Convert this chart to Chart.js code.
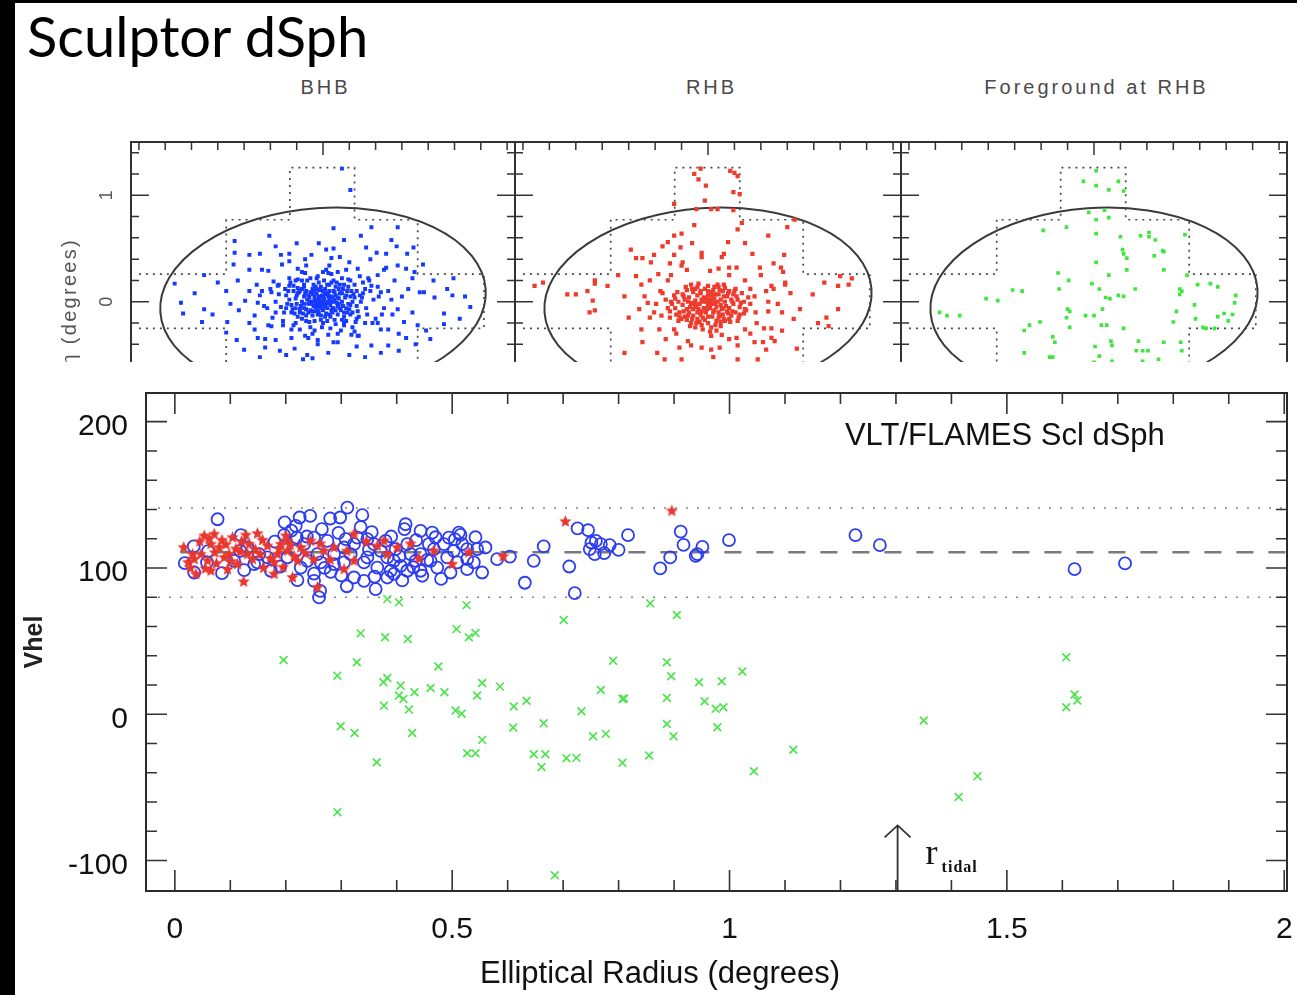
<!DOCTYPE html>
<html><head><meta charset="utf-8">
<script src="https://cdn.jsdelivr.net/npm/chart.js@4.4.1/dist/chart.umd.min.js"></script>
<style>
html,body{margin:0;padding:0;background:#fff;width:1297px;height:995px;overflow:hidden;position:relative}
#bl{position:absolute;left:0;top:0;width:15px;height:995px;background:#000;z-index:20}
#bt{position:absolute;left:0;top:0;width:1297px;height:3px;background:#000;z-index:20}
#title{position:absolute;left:27px;top:8px;font-family:Lato,sans-serif;font-size:56px;line-height:56px;color:#000;white-space:nowrap;z-index:6}
.pt{position:absolute;top:77px;font-family:'Liberation Sans',Arial,sans-serif;font-size:20px;line-height:20px;letter-spacing:3px;color:#4a4a4a;white-space:nowrap;transform:translateX(-50%);padding-left:3px}
.pc{position:absolute;left:0;top:0}
#main{position:absolute;left:15px;top:362px;width:1282px;height:633px;background:#fff;z-index:5}
</style></head>
<body>
<div id="bl"></div><div id="bt"></div>
<div id="title">Sculptor dSph</div>
<div class="pt" style="left:324px">BHB</div>
<div class="pt" style="left:710px">RHB</div>
<div class="pt" style="left:1095px">Foreground at RHB</div>
<canvas id="p1" class="pc" width="1297" height="995"></canvas>
<canvas id="p2" class="pc" width="1297" height="995"></canvas>
<canvas id="p3" class="pc" width="1297" height="995"></canvas>
<div id="main"><canvas id="cm" width="1282" height="633"></canvas></div>
<script>
// ================= DATA =================
// Top panels: sky positions (xi, eta) in degrees
const BHB_SKY = [[0.18,1.25],[0.26,1.05],[0.10,0.69],[-0.51,0.62],[0.46,0.70],[0.71,0.70],[-0.84,0.57],[-0.84,0.46],[-0.70,0.44],[-0.04,0.55],[0.03,0.49],[0.41,0.51],[0.51,0.46],[0.70,0.52],[0.86,0.51],[-1.13,0.25],[-1.41,0.17],[-1.35,-0.01],[-1.33,-0.11],[-1.13,-0.07],[-1.15,-0.19],[1.24,0.22],[1.23,0.06],[1.15,-0.11],[1.15,-0.21],[0.98,-0.27],[0.79,-0.34],[0.46,-0.41],[0.62,-0.41],[-0.41,-0.46],[-0.27,-0.44],[-0.55,-0.43],[-0.55,-0.35],[-0.82,-0.36],[-0.91,-0.19],[-0.92,0.10],[-0.81,0.20],[-0.63,0.16],[-0.52,0.29],[-0.39,0.35],[-0.32,0.38],[-0.17,0.40],[-0.11,0.44],[0.08,0.41],[0.16,0.42],[0.25,0.37],[0.33,0.31],[0.43,0.22],[0.52,0.25],[0.60,0.32],[0.71,0.34],[0.79,0.31],[0.87,0.28],[0.92,0.09],[0.96,0.09],[1.06,0.04],[0.81,0.12],[0.65,0.02],[0.71,-0.07],[0.77,-0.19],[0.52,-0.20],[0.62,-0.26],[0.33,-0.32],[0.14,-0.38],[-0.05,-0.40],[-0.17,-0.32],[-0.30,-0.26],[-0.49,-0.23],[-0.65,-0.13],[-0.74,0.01],[-0.62,-0.01],[-0.49,0.09],[-0.43,0.15],[-0.24,0.21],[-0.05,0.24],[0.05,0.27],[0.24,0.21],[0.46,0.15],[0.55,0.09],[-0.19,-0.54],[-0.10,-0.53],[-0.92,-0.29],[-0.65,-0.26],
[-0.70,0.30],[-0.60,0.45],[-0.45,0.52],[-0.25,0.55],[0.20,0.58],[0.36,0.62],[0.65,0.58],[0.80,0.45],[0.95,0.35],[1.05,0.20],[1.18,0.12],[1.35,0.05],[1.40,-0.05],[1.30,-0.16],[0.85,-0.10],[0.75,0.05],[0.68,0.20],[-0.85,0.35],[-1.00,0.18],[-1.22,0.08],[-1.05,-0.12],[-0.80,-0.08],[-0.70,-0.20],[-0.75,-0.45],[-0.60,-0.52],[-0.35,-0.50],[-0.15,-0.50],[0.05,-0.48],[0.25,-0.50],[0.40,-0.52],[0.55,-0.48],[0.72,-0.46],[0.88,-0.40],[1.02,-0.35],[0.90,-0.22],[0.66,-0.12],[-0.58,0.30],[-0.40,0.44],[0.45,0.40],[0.60,0.45],[-0.88,-0.02],[-0.70,0.10],[0.72,-0.30],[-0.45,-0.36],[0.32,-0.42],[-0.32,0.45],[0.10,0.50],[0.58,0.30],[-0.62,-0.34],[0.85,0.22],
[-0.02,-0.03],[0.05,-0.01],[-0.08,0.02],[0.10,-0.06],[-0.12,-0.08],[0.15,0.03],[-0.18,0.05],[0.20,-0.10],[-0.05,-0.12],[0.03,0.08],[-0.25,-0.02],[0.26,0.05],[-0.30,-0.10],[0.32,-0.04],[-0.10,0.12],[0.12,0.14],[-0.20,-0.16],[0.22,-0.18],[0.00,-0.20],[-0.35,0.06],[0.38,0.08],[-0.40,-0.05],[0.42,-0.12],[-0.15,0.20],[0.18,0.22],[-0.28,0.15],[0.30,0.16],[-0.06,0.22],[0.07,-0.25],[-0.22,-0.26],[0.28,-0.24],[-0.45,0.00],[0.48,0.02],[-0.38,-0.18],[0.40,-0.20],[-0.32,0.22],[0.35,0.24],[-0.10,-0.30],[0.14,-0.30],[0.00,0.28],[-0.50,0.12],[0.52,0.14],[-0.48,-0.15],[0.50,-0.16],[-0.04,0.05],[0.04,-0.06],[-0.14,-0.02],[0.14,-0.12],[-0.08,-0.18],[0.08,0.18],[-0.24,0.08],[0.24,-0.02],[-0.18,-0.06],[0.18,0.08],[-0.34,-0.02],[0.36,0.00],[-0.02,0.14],[0.02,-0.14],[-0.28,-0.22],[0.30,-0.28],[-0.56,-0.04],[0.58,-0.06],[-0.20,0.28],[0.22,0.30],[-0.42,0.16],[0.44,0.20],[-0.60,0.06],[0.62,0.10],[-0.05,-0.36],[0.10,-0.38],[-0.30,-0.34],[0.34,-0.32],[-0.16,0.34],[0.06,0.34],[-0.52,-0.22],[0.55,-0.26],[-0.10,0.00],[0.10,0.00],[0.00,-0.08],[-0.06,0.08],[0.06,0.10],[-0.16,0.10],[0.16,-0.06],[-0.22,-0.10],[0.26,-0.12],[-0.36,0.12],[0.40,0.12],[-0.12,-0.24],[0.20,-0.22],[-0.26,0.20],
[-0.03,0.00],[0.01,0.03],[0.07,-0.03],[-0.07,-0.05],[0.12,0.06],[-0.13,0.04],[0.19,-0.04],[-0.20,0.00],[0.00,0.10],[-0.04,-0.10],[0.09,-0.10],[-0.10,0.07],[0.23,0.10],[-0.26,-0.06],[0.28,0.00],[-0.16,-0.13],[0.15,0.12],[0.04,0.16],[-0.09,0.16],[0.11,-0.17],[-0.02,-0.17],[0.32,0.10],[-0.32,0.02],[0.34,-0.14],[-0.24,0.13],[0.20,0.16],[-0.18,0.16],[0.05,0.05],[-0.05,0.02],[0.00,-0.03],
[0.02,-0.05],[-0.01,0.06],[0.06,0.02],[-0.06,-0.02],[0.09,0.04],[-0.09,-0.04],[0.13,-0.01],[-0.13,0.00],[0.03,-0.11],[-0.03,0.11],[0.17,-0.08],[-0.17,0.08],[0.21,0.04],[-0.21,-0.04],[0.11,0.09],[-0.11,-0.09],[0.07,-0.14],[-0.07,0.14],[0.25,-0.07],[-0.25,0.06],[0.16,0.16],[-0.16,-0.18],[0.29,0.07],[-0.29,-0.07],[0.01,0.20],[-0.01,-0.24],[0.33,-0.09],[-0.33,0.10],[0.20,-0.20],[-0.20,0.20],[0.37,0.04],[-0.37,-0.10],[0.12,-0.21],[-0.12,0.22],[0.41,-0.06],[-0.42,0.07],[0.26,0.20],[-0.26,-0.20],[0.08,0.26],[-0.08,-0.27],[0.45,0.10],[-0.45,-0.10],[0.31,-0.19],[-0.31,0.18],[0.17,-0.27],[-0.17,0.27],[0.05,-0.31],[0.03,0.30],[0.38,0.18],[-0.38,-0.22],[0.47,-0.20],[-0.47,0.19],[0.27,-0.31],[-0.24,0.31],[0.53,0.05],[-0.53,-0.06],[0.56,-0.12],[-0.58,0.10],[0.14,0.28],[-0.14,-0.34],[0.00,0.00],[0.04,0.00],[-0.04,-0.04],[0.08,-0.08],[-0.08,0.05],[0.14,0.04],[-0.14,-0.10],[0.22,-0.06],[-0.22,0.10],[0.10,0.20],
[0.02,0.07],[-0.02,-0.06],[0.06,-0.12],[-0.06,0.12],[0.10,0.10],[-0.10,-0.13],[0.14,-0.04],[-0.14,0.06],[0.18,0.00],[-0.18,-0.02],[0.22,0.06],[-0.22,-0.07],[0.26,-0.03],[-0.26,0.03],[0.30,0.04],[-0.30,-0.03],[0.08,0.05],[-0.08,-0.09],[0.12,-0.08],[-0.12,0.09],[0.16,0.08],[-0.16,-0.07],[0.20,-0.14],[-0.20,0.12],[0.24,0.14],[-0.24,-0.14],[0.28,-0.10],[-0.28,0.10],[0.04,-0.18],[-0.04,0.18],[0.13,0.18],[-0.13,-0.19],[0.18,-0.17],[-0.18,0.14],[0.32,-0.16],[-0.32,0.15],[0.35,0.06],[-0.35,-0.06],[0.00,0.05],[0.03,-0.02],[-0.03,0.03],[0.07,0.00],[-0.07,0.00],[0.11,0.02],[-0.11,-0.02],[0.15,-0.02],[-0.15,0.02],[0.05,0.08],[-0.05,-0.08],[0.09,-0.06],[-0.09,0.10],[0.19,0.12],[-0.19,-0.11],[0.23,-0.10],[-0.23,0.09],[0.27,0.10],[-0.27,-0.11],[0.02,0.12],[-0.02,-0.13],[0.06,0.16]];

const RHB_SKY = [[-0.07,1.25],[-0.13,1.20],[-0.09,1.15],[-0.02,1.09],[0.21,1.23],[0.25,1.21],[0.28,1.18],[0.24,1.03],[0.30,1.01],[-0.03,0.95],[-0.32,0.92],[-0.11,0.87],[0.03,0.87],[0.09,0.87],[0.24,0.86],[-0.13,0.72],[0.28,0.68],[0.32,0.74],[0.75,0.70],[0.82,0.77],[-0.25,0.64],[-0.32,0.62],[0.19,0.56],[0.35,0.55],[0.57,0.62],[-0.43,0.52],[-0.38,0.56],[-0.26,0.51],[-0.73,0.49],[-0.51,0.44],[-0.06,0.46],[-0.06,0.42],[0.13,0.42],[-0.32,0.44],[-0.24,0.37],[-0.25,0.34],[-0.68,0.41],[-0.62,0.41],[-0.54,0.37],[-0.36,0.36],[0.27,0.32],[0.20,0.32],[0.49,0.32],[0.62,0.36],[0.72,0.44],[0.71,0.28],[0.69,0.32],[0.02,0.29],[0.10,0.31],[-0.68,0.24],[-0.47,0.26],[-1.07,0.20],[-1.07,0.17],[-0.95,0.15],[-1.14,0.10],[-1.25,0.07],[-1.33,0.07],[-1.56,0.18],[-1.64,0.15],[-1.09,0.01],[-1.07,-0.08],[-1.12,-0.10],[-0.79,0.05],[-0.63,0.16],[-0.38,0.20],[-0.43,0.08],[-0.57,-0.01],[-0.49,-0.02],[-0.65,-0.07],[-0.51,-0.10],[-0.44,-0.13],[-0.36,-0.15],[-0.63,-0.26],[-0.46,-0.26],[-0.62,-0.38],[-0.79,-0.48],[-0.32,-0.26],[-0.27,-0.43],[-0.16,-0.41],[-0.06,-0.43],[0.03,-0.45],[0.11,-0.43],[0.27,-0.34],[0.28,-0.41],[0.03,-0.32],[0.13,-0.31],[-0.19,-0.37],[-0.25,-0.54],[-0.41,-0.54],[0.28,-0.54],[0.47,-0.54],[0.44,-0.38],[0.52,-0.38],[0.60,-0.34],[0.63,-0.37],[0.53,-0.25],[0.60,-0.25],[0.70,-0.27],[0.35,-0.26],[0.46,-0.20],[0.44,0.05],[0.35,-0.07],[0.40,0.12],[0.55,0.10],[0.60,0.15],[0.57,-0.09],[0.66,-0.02],[0.57,0.00],[0.73,0.18],[0.73,0.16],[0.81,-0.16],[0.87,-0.07],[0.99,0.07],[0.84,-0.44],[1.04,-0.20],[1.12,-0.15],[1.14,-0.23],[1.10,0.18],[1.23,0.15],[1.25,0.24],[1.33,0.16],[1.36,0.22],[1.23,-0.07],
[-0.55,0.20],[-0.45,0.10],[-0.35,0.25],[-0.20,0.30],[0.20,0.25],[0.35,0.20],[0.50,0.25],[0.45,-0.10],[0.40,-0.30],[0.20,-0.35],[-0.40,-0.35],[-0.55,-0.15],[-0.30,-0.30],[0.55,-0.45],[0.70,-0.10],[0.78,0.08],[-0.75,-0.15],[-0.85,0.25],[0.15,0.45],[-0.15,0.55],[0.42,0.45],[-0.48,-0.48],[0.05,-0.52],[0.62,0.12],[-0.60,0.05],
[0.00,-0.04],[0.04,-0.02],[-0.04,-0.06],[0.08,-0.05],[-0.08,-0.02],[0.12,-0.03],[-0.12,-0.05],[0.02,0.02],[-0.02,-0.10],[0.06,0.03],[-0.06,0.02],[0.10,-0.10],[-0.10,-0.10],[0.16,0.00],[-0.16,-0.01],[0.14,-0.12],[-0.14,-0.13],[0.20,-0.06],[-0.20,-0.07],[0.00,0.06],[0.04,-0.14],[-0.05,-0.15],[0.18,0.05],[-0.18,0.04],[0.10,0.07],[-0.10,0.06],[0.24,-0.02],[-0.24,-0.03],[0.22,-0.13],[-0.22,-0.14],[0.08,-0.18],[-0.08,-0.19],[0.00,-0.20],[0.14,0.10],[-0.14,0.09],[0.05,0.11],[-0.03,0.12],[0.28,0.02],[-0.28,0.00],[0.26,-0.10],[-0.27,-0.10],[0.16,-0.18],[-0.16,-0.20],[0.20,0.10],[-0.20,0.11],[0.30,-0.05],[-0.31,-0.06],[0.10,0.14],[-0.10,0.14],[0.03,-0.24],[-0.12,-0.24],[0.12,-0.23],[0.24,0.07],[-0.24,0.07],[0.34,0.00],[-0.34,-0.02],[0.06,-0.08],[-0.06,-0.09],[0.02,-0.06],[-0.02,0.00],[0.12,0.02],[-0.12,0.01],[0.18,-0.09],[-0.18,-0.10],[0.07,0.07],[-0.07,0.08],[0.00,0.15],[0.20,-0.16],[-0.20,-0.17],[0.30,-0.12],[-0.30,-0.12],[0.26,0.12],[-0.05,-0.26],[0.08,-0.27],[0.32,0.08],[-0.32,0.06],[0.36,-0.08],[-0.36,-0.09],[0.15,0.16],[-0.16,0.16],[0.22,0.02],[-0.22,0.02],[0.14,-0.06],[-0.14,-0.07],[0.04,0.06],[-0.04,0.04],[0.10,-0.15],[-0.10,-0.16],[0.28,-0.18],[-0.28,-0.18],[0.40,-0.02],[-0.40,0.02],
[0.01,-0.01],[-0.01,-0.07],[0.05,-0.10],[-0.05,0.00],[0.09,0.00],[-0.09,-0.07],[0.13,-0.07],[-0.13,-0.02],[0.17,-0.04],[-0.17,-0.05],[0.03,0.09],[-0.03,-0.17],[0.07,-0.22],[-0.07,0.10],[0.11,0.11],[-0.11,-0.20],[0.19,0.08],[-0.19,-0.13],[0.23,-0.09],[-0.23,0.05],[0.15,-0.16],[-0.15,0.12],[0.27,0.05],[-0.27,-0.14],[0.06,0.14],[-0.06,-0.22],[0.21,-0.19],[-0.21,0.14],[0.31,-0.01],[-0.31,0.03],[0.00,0.10],[0.00,-0.14],[0.12,-0.19],[-0.12,0.12],[0.25,0.10],[-0.25,-0.16],[0.34,-0.11],[-0.35,0.00],[0.16,0.13],[-0.17,-0.23],[0.02,-0.28],[0.09,0.16],[-0.09,0.17],[0.29,-0.15],[-0.29,0.09],[0.38,0.04],[-0.38,-0.06],[0.04,0.02],[-0.02,0.03],[0.07,-0.01],[-0.07,-0.12],[0.11,-0.13],[-0.11,-0.03],[0.15,0.05],[-0.15,-0.16],[0.19,-0.11],[-0.19,0.00],[0.23,0.00],[-0.23,-0.09],[0.00,-0.01]];

const FG_SKY = [[0.02,1.23],[-0.10,1.13],[0.02,1.09],[0.14,1.05],[0.23,1.13],[0.28,1.04],[-0.05,0.84],[0.10,0.86],[0.14,0.79],[0.02,0.77],[-0.26,0.70],[-0.48,0.67],[0.02,0.64],[0.25,0.61],[0.44,0.62],[0.52,0.65],[0.52,0.61],[0.58,0.58],[0.86,0.63],[0.27,0.49],[0.28,0.45],[0.31,0.41],[0.57,0.43],[0.65,0.48],[0.66,0.47],[0.02,0.37],[0.31,0.30],[0.66,0.30],[0.14,0.25],[0.88,0.25],[-0.34,0.27],[-0.24,0.20],[-0.02,0.17],[0.05,0.12],[-0.33,0.12],[0.39,0.12],[0.81,0.12],[0.83,0.10],[0.81,0.07],[0.98,0.16],[1.10,0.17],[1.17,0.14],[1.34,0.06],[1.33,-0.01],[-0.77,0.11],[-0.68,0.10],[-1.02,0.03],[-0.91,0.01],[-1.46,-0.10],[-1.39,-0.13],[-1.27,-0.13],[0.11,0.04],[0.15,0.03],[0.23,0.06],[0.28,0.05],[-0.25,-0.07],[-0.23,-0.09],[-0.26,-0.15],[-0.08,-0.13],[0.00,-0.13],[0.08,-0.07],[0.78,-0.09],[0.95,-0.03],[0.96,-0.16],[0.75,-0.19],[1.17,-0.14],[1.23,-0.11],[1.31,-0.12],[1.27,-0.18],[1.03,-0.24],[1.06,-0.25],[1.14,-0.25],[-0.61,-0.22],[-0.66,-0.27],[-0.51,-0.19],[-0.23,-0.24],[0.07,-0.22],[0.12,-0.22],[0.28,-0.25],[-0.39,-0.33],[-0.37,-0.38],[-0.66,-0.48],[-0.42,-0.52],[-0.39,-0.52],[0.01,-0.42],[0.16,-0.37],[0.17,-0.41],[0.05,-0.51],[0.40,-0.46],[0.42,-0.37],[0.46,-0.46],[0.51,-0.46],[0.66,-0.38],[0.82,-0.38],[0.83,-0.46],[0.61,-0.54],[0.46,-0.56],[0.17,-0.56],[0.00,-0.57]];

// Main panel: [elliptical radius (deg), Vhel (km/s)]
const BHB_VEL = [[1.622,99.2],[1.713,103.1],[0.604,107.8],[0.647,104.9],[0.665,114.7],[0.631,89.9],[0.711,101.0],[0.721,82.8],[0.726,127.0],[0.745,125.8],[0.751,117.4],[0.759,118.5],[0.768,116.3],[0.748,112.9],[0.757,109.4],[0.774,110.1],[0.784,115.6],[0.800,112.4],[0.817,122.4],[0.875,99.7],[0.893,107.2],[0.912,124.9],[0.917,115.8],[0.942,109.4],[0.939,108.3],[0.951,114.4],[0.999,119.0],[1.227,122.4],[1.271,115.6],
[0.077,133.3],[0.034,114.7],[0.018,103.3],[0.035,96.9],[0.058,103.8],[0.119,122.4],[0.118,111.7],[0.143,102.6],[0.198,131.1],[0.197,122.4],[0.218,128.8],[0.225,134.5],[0.244,135.6],[0.220,120.8],[0.238,121.5],[0.251,120.8],[0.218,111.7],[0.227,100.3],[0.221,91.7],[0.251,96.2],[0.262,84.4],[0.260,79.9],[0.280,133.8],[0.298,134.5],[0.311,141.3],[0.338,136.1],[0.275,118.5],[0.287,109.4],[0.308,119.7],[0.305,114.0],[0.281,97.4],[0.305,103.8],[0.323,93.5],[0.341,91.2],[0.329,120.8],[0.347,119.7],[0.359,116.3],[0.347,107.2],[0.365,100.3],[0.362,85.6],[0.380,118.5],[0.383,107.2],[0.389,98.1],[0.383,93.5],[0.398,112.9],[0.416,129.9],[0.414,126.5],[0.419,116.3],[0.434,104.9],[0.419,98.1],[0.443,125.4],[0.443,98.1],[0.446,94.7],[0.464,124.2],[0.467,112.9],[0.461,104.9],[0.485,116.3],[0.491,107.2],[0.497,96.9],[0.494,120.8],[0.512,124.2],[0.518,116.3],[0.509,103.8],[0.515,122.6],[0.527,106.0],[0.527,99.2],[0.554,96.9],[0.545,112.9],[0.560,114.0],[0.581,106.0],
[0.233,116.3],[0.257,109.4],[0.239,104.9],[0.203,107.2],[0.167,107.2],[0.149,103.8],[0.152,109.4],[0.173,98.1],[0.107,104.9],[0.131,114.0],[0.263,103.8],[0.287,102.6],[0.317,109.4],[0.251,91.2],[0.323,116.3],[0.341,103.8],[0.371,111.7],[0.395,104.9],[0.407,101.5],[0.425,109.4],[0.443,109.4],[0.473,100.3],[0.503,111.7],[0.527,112.9],[0.539,103.8],[0.458,116.3],
[0.180,118.0],[0.210,125.5],[0.265,126.5],[0.295,124.0],[0.335,128.0],[0.355,124.5],[0.390,121.5],[0.435,119.0],[0.470,121.0],[0.505,119.5],[0.542,121.0],[0.300,95.0],[0.360,94.0],[0.410,91.5],[0.480,92.5],[0.430,100.5],[0.190,101.0],[0.125,98.5],[0.085,96.5],[0.060,111.5],[0.395,96.0],[0.350,112.5],[0.270,100.0],[0.310,87.5],[0.455,105.5],[0.405,108.0]];

const RHB_VEL = [[0.016,114.0],[0.024,103.8],[0.038,95.8],[0.053,122.0],[0.065,116.3],[0.071,123.1],[0.080,114.0],[0.089,107.2],[0.098,109.4],[0.065,98.1],[0.104,120.8],[0.113,102.6],[0.124,90.6],[0.134,116.3],[0.149,123.5],[0.154,109.4],[0.167,115.1],[0.179,95.8],[0.185,109.4],[0.191,116.3],[0.203,111.7],[0.212,93.5],[0.227,114.0],[0.245,118.5],[0.257,86.7],[0.269,111.7],[0.287,114.0],[0.323,123.1],[0.305,99.2],[0.323,104.9],[0.365,115.1],[0.377,118.5],[0.383,109.4],[0.401,114.0],[0.467,111.7],[0.500,102.6],[0.592,107.8],[0.704,131.7],[0.896,139.0],[0.032,109.4],[0.047,109.4],[0.059,104.9],[0.131,109.4],[0.221,104.9],[0.179,103.8],[0.203,118.5],[0.045,118.0],[0.085,119.0],[0.110,113.0],[0.140,106.0],[0.095,99.0],[0.160,100.0],[0.120,118.0],[0.075,103.0],[0.200,122.0],[0.215,108.0],[0.250,106.0],[0.028,100.0],
[0.035,106.0],[0.055,99.5],[0.062,120.0],[0.072,110.5],[0.092,116.0],[0.102,104.5],[0.118,111.0],[0.128,122.5],[0.145,112.5],[0.158,119.0],[0.172,106.5],[0.188,113.0],[0.195,100.5],[0.208,116.0],[0.235,110.0],[0.262,116.5],[0.280,105.5],[0.310,111.5],[0.345,118.0],[0.425,116.5],[0.440,106.5],[0.530,110.5]];

const FG_VEL = [[0.383,78.7],[0.404,76.5],[0.526,74.6],[0.335,55.3],[0.379,52.6],[0.420,51.4],[0.508,58.2],[0.530,52.6],[0.542,55.5],[0.196,37.1],[0.293,26.4],[0.328,35.5],[0.376,21.9],[0.383,24.8],[0.407,19.6],[0.404,12.8],[0.412,10.5],[0.432,15.0],[0.461,18.0],[0.475,32.6],[0.486,15.0],[0.377,5.9],[0.422,3.2],[0.506,2.5],[0.517,0.3],[0.545,12.8],[0.554,21.4],[0.586,18.9],[0.611,5.3],[0.634,9.3],[0.299,-8.2],[0.324,-12.8],[0.428,-12.8],[0.554,-17.5],[0.527,-26.6],[0.542,-26.6],[0.610,-9.1],[0.665,-6.2],[0.647,-27.3],[0.668,-27.3],[0.661,-36.1],[0.364,-32.8],[0.293,-66.9],[0.857,75.8],[0.905,67.8],[0.701,64.4],[0.790,36.6],[0.887,35.5],[0.895,26.0],[0.945,21.9],[0.986,22.6],[1.023,29.2],[0.768,16.6],[0.807,10.5],[0.810,10.8],[0.887,11.2],[0.955,8.9],[0.975,3.7],[0.989,4.8],[0.733,2.1],[0.887,-6.6],[0.899,-15.0],[0.978,-8.9],[0.754,-15.0],[0.777,-13.4],[0.706,-30.0],[0.724,-29.8],[0.807,-33.2],[0.855,-28.2],[1.044,-38.9],[1.115,-24.3],[1.350,-4.3],[0.685,-110.1],[1.447,-42.3],[1.413,-56.6],[1.607,38.9],[1.622,13.5],[1.627,9.4],[1.607,4.8]];

// Reference lines and markers
const V_SYS = 110.7, V_HI = 141, V_LO = 80;
const R_TIDAL = 1.303, ARROW_TIP_V = -76;
const X_MIN = -0.052, X_MAX = 2.005, Y_MIN = -120.8, Y_MAX = 219.6;
const DASH_START = 0.01, DOT_START = -0.03, LINE_END = 2.005;

// Tick labels / tick marks
const X_LABELS = [0, 0.5, 1, 1.5, 2];
const X_MINOR = [0,0.1,0.2,0.3,0.4,0.5,0.6,0.7,0.8,0.9,1,1.1,1.2,1.3,1.4,1.5,1.6,1.7,1.8,1.9,2];
const Y_LABELS = [-100, 0, 100, 200];
const Y_MINOR = [-100,-80,-60,-40,-20,0,20,40,60,80,100,120,140,160,180,200];
const PX_TICKS = [-1.75,-1.5,-1.25,-1,-0.75,-0.5,-0.25,0,0.25,0.5,0.75,1,1.25,1.5,1.75];
const PX_MAJOR = [0];
const PY_TICKS = [-1.4,-1.2,-1,-0.8,-0.6,-0.4,-0.2,0,0.2,0.4,0.6,0.8,1,1.2,1.4];
const PY_MAJOR = [-1, 0, 1];
const PY_LABELS = [0, 1];

// Panel geometry: tidal ellipse and observed fields
const ELL = {x0:0, y0:0.01, a:1.55, b:0.87, tilt:4.1};
const FIELD_PATHS = [
  [[-1.75,0.26],[-0.92,0.26],[-0.92,0.77],[-0.315,0.77],[-0.315,1.26],[0.30,1.26],[0.30,0.77],[0.90,0.77],[0.90,0.26],[1.53,0.26],[1.53,-0.25],[0.90,-0.25],[0.90,-1.2]],
  [[-1.75,-0.25],[-0.92,-0.25],[-0.92,-1.2]]
];
const PANEL_XR = 1.825, PANEL_YR = 1.5;

// ================= RENDER =================
const SANS = "'Liberation Sans', Arial, Helvetica, sans-serif";
Chart.defaults.font.family = SANS;
const near = (arr, v) => arr.some(a => Math.abs(a - v) < 1e-6);

const panelDeco = {
  id: 'panelDeco',
  beforeDatasetsDraw(chart) {
    const {ctx, scales: {x, y}} = chart;
    ctx.save();
    const cx = x.getPixelForValue(ELL.x0), cy = y.getPixelForValue(ELL.y0);
    const rx = Math.abs(x.getPixelForValue(ELL.a) - x.getPixelForValue(0));
    const ry = Math.abs(y.getPixelForValue(ELL.b) - y.getPixelForValue(0));
    ctx.strokeStyle = '#3a3a3a'; ctx.lineWidth = 2;
    ctx.beginPath(); ctx.ellipse(cx, cy, rx, ry, -ELL.tilt * Math.PI / 180, 0, 2 * Math.PI); ctx.stroke();
    ctx.setLineDash([2, 5]); ctx.lineWidth = 1.7; ctx.strokeStyle = '#4a4a4a';
    FIELD_PATHS.forEach(path => {
      ctx.beginPath();
      path.forEach((p, i) => {
        const px = x.getPixelForValue(p[0]), py = y.getPixelForValue(p[1]);
        i ? ctx.lineTo(px, py) : ctx.moveTo(px, py);
      });
      ctx.stroke();
    });
    ctx.restore();
  },
  afterDraw(chart, args, opts) {
    const {ctx, chartArea: a, scales: {x, y}} = chart;
    ctx.save();
    ctx.strokeStyle = '#333'; ctx.lineWidth = 2;
    ctx.strokeRect(a.left, a.top, a.right - a.left, a.bottom - a.top);
    ctx.lineWidth = 1.5; ctx.beginPath();
    PX_TICKS.forEach(v => {
      const p = x.getPixelForValue(v), L = near(PX_MAJOR, v) ? 13 : 8;
      ctx.moveTo(p, a.top); ctx.lineTo(p, a.top + L);
    });
    PY_TICKS.forEach(v => {
      const p = y.getPixelForValue(v), L = near(PY_MAJOR, v) ? 18 : 8;
      ctx.moveTo(a.left, p); ctx.lineTo(a.left + L, p);
      ctx.moveTo(a.right, p); ctx.lineTo(a.right - L, p);
    });
    ctx.stroke();
    if (opts.first) {
      ctx.fillStyle = '#555';
      ctx.font = '18px ' + SANS;
      ctx.textAlign = 'center'; ctx.textBaseline = 'middle';
      PY_LABELS.forEach(v => {
        const p = y.getPixelForValue(v);
        ctx.save(); ctx.translate(a.left - 24, p); ctx.rotate(-Math.PI / 2);
        ctx.fillText(String(v), 0, 0); ctx.restore();
      });
      ctx.save();
      ctx.font = '20px ' + SANS;
      ctx.letterSpacing = '2.3px';
      ctx.translate(a.left - 61, y.getPixelForValue(0)); ctx.rotate(-Math.PI / 2);
      ctx.fillText('\u03B7 (degrees)', 0, 0);
      ctx.restore();
    }
    ctx.restore();
  }
};

function makePanel(id, left, right, sky, color, radius, first) {
  return new Chart(document.getElementById(id), {
    type: 'scatter',
    data: {datasets: [{data: sky.map(p => ({x: p[0], y: p[1]})), pointStyle: 'rect', pointRadius: radius,
      backgroundColor: color, borderWidth: 0}]},
    options: {
      responsive: false, animation: false, events: [],
      layout: {padding: {left: left, right: 1297 - right, top: 142, bottom: 995 - (142 + 2 * PANEL_YR * 106.5)}},
      scales: {x: {display: false, min: -PANEL_XR, max: PANEL_XR}, y: {display: false, min: -PANEL_YR, max: PANEL_YR}},
      plugins: {legend: {display: false}, tooltip: {enabled: false}, panelDeco: {first: first}}
    },
    plugins: [panelDeco]
  });
}
makePanel('p1', 131, 515, BHB_SKY, '#1539ff', 2.8, true);
makePanel('p2', 515, 901, RHB_SKY, '#ee3b2c', 3.0, false);
makePanel('p3', 901, 1287, FG_SKY, '#3fe63f', 2.6, false);

function makeStar(r, color) {
  const c = document.createElement('canvas');
  const s = Math.ceil(2 * r + 2); c.width = s; c.height = s;
  const g = c.getContext('2d'); g.fillStyle = color; g.beginPath();
  for (let i = 0; i < 10; i++) {
    const ang = -Math.PI / 2 + i * Math.PI / 5, rr = i % 2 ? r * 0.45 : r;
    g.lineTo(s / 2 + rr * Math.cos(ang), s / 2 + rr * Math.sin(ang));
  }
  g.closePath(); g.fill();
  return c;
}
const starImg = makeStar(6.4, '#e8372f');

const mainDeco = {
  id: 'mainDeco',
  afterDraw(chart) {
    const {ctx, chartArea: a, scales: {x, y}} = chart;
    ctx.save();
    ctx.strokeStyle = '#2a2a2a'; ctx.lineWidth = 2;
    ctx.strokeRect(a.left, a.top, a.right - a.left, a.bottom - a.top);
    ctx.lineWidth = 1.6; ctx.strokeStyle = '#333'; ctx.beginPath();
    X_MINOR.forEach(v => {
      const p = x.getPixelForValue(v), L = near(X_LABELS, v) ? 21 : 11;
      ctx.moveTo(p, a.bottom); ctx.lineTo(p, a.bottom - L);
      ctx.moveTo(p, a.top); ctx.lineTo(p, a.top + L);
    });
    Y_MINOR.forEach(v => {
      const p = y.getPixelForValue(v), L = near(Y_LABELS, v) ? 21 : 11;
      ctx.moveTo(a.left, p); ctx.lineTo(a.left + L, p);
      ctx.moveTo(a.right, p); ctx.lineTo(a.right - L, p);
    });
    ctx.stroke();
    // tidal radius arrow
    const ax = x.getPixelForValue(R_TIDAL), tip = y.getPixelForValue(ARROW_TIP_V);
    ctx.strokeStyle = '#333'; ctx.lineWidth = 1.8; ctx.beginPath();
    ctx.moveTo(ax, a.bottom); ctx.lineTo(ax, tip);
    ctx.moveTo(ax - 13, tip + 12); ctx.lineTo(ax, tip); ctx.lineTo(ax + 13, tip + 12);
    ctx.stroke();
    ctx.fillStyle = '#111'; ctx.textAlign = 'left'; ctx.textBaseline = 'alphabetic';
    ctx.font = "36px 'Liberation Serif', 'Times New Roman', serif";
    ctx.fillText('r', ax + 28, a.bottom - 27);
    ctx.font = "bold 16px 'Liberation Serif', 'Times New Roman', serif";
    ctx.letterSpacing = '1px';
    ctx.fillText('tidal', ax + 44, a.bottom - 19);
    ctx.letterSpacing = '0px';
    // label
    ctx.font = '31px ' + SANS; ctx.textBaseline = 'middle'; ctx.fillStyle = '#111';
    ctx.fillText('VLT/FLAMES Scl dSph', x.getPixelForValue(1.208), y.getPixelForValue(190));
    // x-axis title
    ctx.textAlign = 'center';
    ctx.fillText('Elliptical Radius (degrees)', 645, 612);
    ctx.restore();
  }
};

const pts = arr => arr.map(p => ({x: p[0], y: p[1]}));
new Chart(document.getElementById('cm'), {
  type: 'scatter',
  data: {datasets: [
    {label: 'RHB', data: pts(RHB_VEL), pointStyle: starImg, order: 1},
    {label: 'BHB', data: pts(BHB_VEL), pointStyle: 'circle', pointRadius: 6, borderWidth: 1.8,
     borderColor: '#2b3cf2', backgroundColor: 'rgba(0,0,0,0)', order: 2},
    {label: 'Foreground', data: pts(FG_VEL), pointStyle: 'crossRot', pointRadius: 5.5, borderWidth: 1.7,
     borderColor: '#4fe34f', backgroundColor: '#4fe34f', order: 3},
    {label: 'Vsys', data: [{x: DASH_START, y: V_SYS}, {x: LINE_END, y: V_SYS}], showLine: true, pointRadius: 0,
     borderColor: '#7a7a7a', borderWidth: 2.6, borderDash: [17, 15], order: 5},
    {label: 'Vhi', data: [{x: DOT_START, y: V_HI}, {x: LINE_END, y: V_HI}], showLine: true, pointRadius: 0,
     borderColor: '#666', borderWidth: 1.6, borderDash: [1.6, 9.4], order: 6},
    {label: 'Vlo', data: [{x: DOT_START, y: V_LO}, {x: LINE_END, y: V_LO}], showLine: true, pointRadius: 0,
     borderColor: '#666', borderWidth: 1.6, borderDash: [1.6, 9.4], order: 6}
  ]},
  options: {
    responsive: false, animation: false, events: [],
    layout: {padding: {left: 0, top: 31, right: 10, bottom: 0}},
    plugins: {legend: {display: false}, tooltip: {enabled: false}},
    scales: {
      x: {type: 'linear', position: 'bottom', min: X_MIN, max: X_MAX,
        grid: {display: false, drawTicks: false}, border: {display: false},
        afterBuildTicks: s => { s.ticks = X_LABELS.map(v => ({value: v})); },
        afterFit: s => { s.height = 104; s.paddingLeft = 0; s.paddingRight = 0; },
        ticks: {padding: 21, color: '#111', font: {size: 30}, maxRotation: 0, autoSkip: false, callback: v => String(v)},
        title: {display: false}
      },
      y: {type: 'linear', position: 'left', min: Y_MIN, max: Y_MAX,
        grid: {display: false, drawTicks: false}, border: {display: false},
        afterBuildTicks: s => { s.ticks = Y_LABELS.map(v => ({value: v})); },
        afterFit: s => { s.width = 131; s.paddingTop = 0; s.paddingBottom = 0; },
        ticks: {padding: 18, labelOffset: 5, color: '#111', font: {size: 30}, autoSkip: false, callback: v => String(v)},
        title: {display: true, text: 'Vhel', color: '#222', font: {size: 25, weight: 'bold'}, padding: {top: 5, bottom: 0}}
      }
    }
  },
  plugins: [mainDeco]
});
</script>
</body></html>
